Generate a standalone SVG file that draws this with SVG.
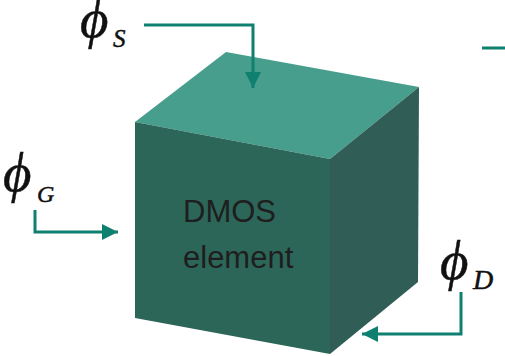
<svg xmlns="http://www.w3.org/2000/svg" width="505" height="356" viewBox="0 0 505 356">
  <style>
    .wire { fill: none; stroke: #0f8070; stroke-width: 3; }
    .phi { font-family: "Liberation Serif", "DejaVu Serif", serif; font-style: italic; fill: #111; stroke: #111; stroke-width: 0.5; }
    .body { font-family: "Liberation Sans", Arial, sans-serif; font-size: 31px; fill: #1e1e1e; }
  </style>
  <defs>
    <marker id="head" viewBox="0 0 16 16" refX="16" refY="8" markerWidth="16" markerHeight="16" markerUnits="userSpaceOnUse" orient="auto">
      <path d="M0,0 L16,8 L0,16 Z" fill="#0f8070"/>
    </marker>
  </defs>

  <!-- DMOS element drawn as a shaded cube -->
  <g id="dmos-cube">
    <polygon points="135,122 226,52 419,87 330,159" fill="#479e8c"/>
    <polygon points="330,159 419,87 418,282 330,354" fill="#305e57"/>
    <polygon points="135,122 330,159 330,354 135,318" fill="#2c6659"/>
    <text class="body" x="183" y="222">DMOS</text>
    <text class="body" x="183" y="268">element</text>
  </g>

  <!-- terminal potentials -->
  <g id="phi-s">
    <text class="phi" x="80" y="37" font-size="55">ϕ</text>
    <text class="phi" x="113" y="47" font-size="25">S</text>
  </g>
  <g id="phi-g">
    <text class="phi" x="3" y="191" font-size="55">ϕ</text>
    <text class="phi" x="37" y="202" font-size="24">G</text>
  </g>
  <g id="phi-d">
    <text class="phi" x="440" y="279" font-size="55">ϕ</text>
    <text class="phi" x="473" y="289" font-size="28">D</text>
  </g>

  <g id="connectors">
    <path class="wire" d="M144,25 H253 V88" marker-end="url(#head)"/>
    <path class="wire" d="M35,210 V232 H118" marker-end="url(#head)"/>
    <path class="wire" d="M461,292 V334 H362" marker-end="url(#head)"/>
    <path class="wire" d="M482,48 H505"/>
  </g>
</svg>
